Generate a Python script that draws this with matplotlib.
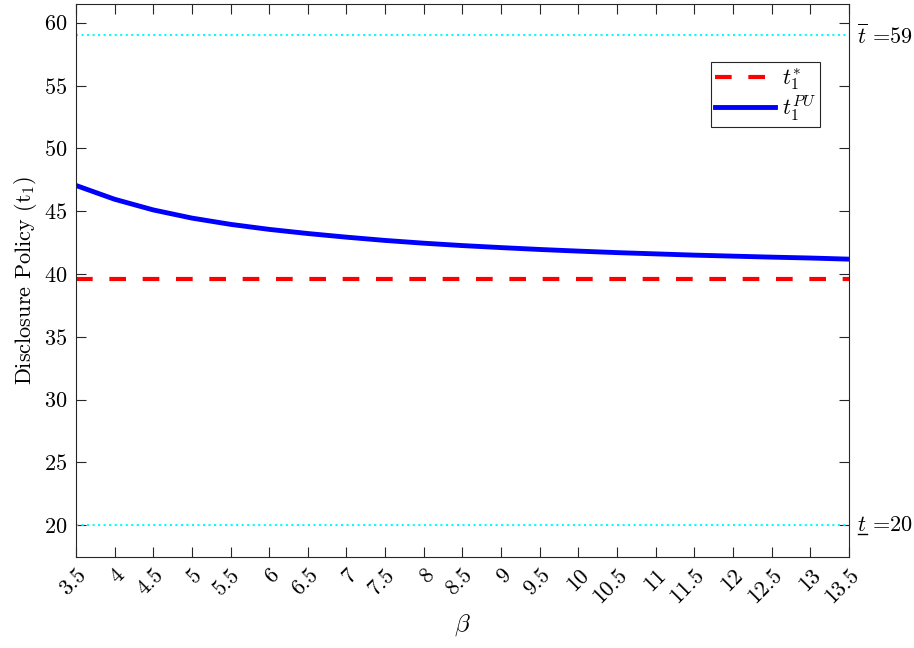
import matplotlib
matplotlib.use('Agg')
import matplotlib.pyplot as plt
import matplotlib.transforms as mtrans
from matplotlib.lines import Line2D
import numpy as np

plt.rcParams['font.family'] = 'serif'
plt.rcParams['font.serif'] = ['cmr10']
plt.rcParams['mathtext.fontset'] = 'cm'
plt.rcParams['axes.formatter.use_mathtext'] = True

# beta grid and disclosure policies
beta = [3.5, 4, 4.5, 5, 5.5, 6, 6.5, 7, 7.5, 8, 8.5, 9, 9.5, 10, 10.5,
        11, 11.5, 12, 12.5, 13, 13.5]
t_pu = [47.05, 45.95, 45.1, 44.45, 43.95, 43.55, 43.22, 42.93, 42.67, 42.45,
        42.26, 42.1, 41.95, 41.82, 41.7, 41.6, 41.5, 41.42, 41.34, 41.27, 41.18]
t_star = 39.6
t_low = 20
t_high = 59

fig = plt.figure(figsize=(9.14, 6.48), dpi=100)
ax = fig.add_axes([0.083, 0.141, 0.846, 0.853])

ax.axhline(t_high, color='cyan', ls=':', lw=1.5)
ax.axhline(t_low, color='cyan', ls=':', lw=1.5)
ax.plot(beta, [t_star] * len(beta), color='red', ls=(0, (4, 4)), lw=3, label=r'$t_1^{*}$')
ax.plot(beta, t_pu, color='blue', lw=3.5, label=r'$t_1^{PU}$')

ax.set_xlim(3.5, 13.5)
ax.set_ylim(17.5, 61.5)
ax.set_xticks(beta)
ax.set_xticklabels([('%g' % b) for b in beta], rotation=45, ha='right',
                   rotation_mode='anchor')
ax.set_yticks(np.arange(20, 61, 5))
ax.tick_params(direction='in', length=7, top=True, right=True, labelsize=16,
               color='#262626', pad=6)
for s in ax.spines.values():
    s.set_color('#262626')
    s.set_linewidth(0.8)

ax.set_xlabel(r'$\beta$', fontsize=18)
ax.set_ylabel(r'Disclosure Policy $(\mathrm{t}_1)$', fontsize=16)

tr = mtrans.blended_transform_factory(ax.transAxes, ax.transData)
ax.text(1.01, t_high, r'$\overline{t}$ =59', transform=tr, fontsize=16, va='center')
low_txt = ax.text(1.01, t_low, r'$t$ =20', transform=tr, fontsize=16, va='center')

leg = ax.legend(loc='upper right', bbox_to_anchor=(0.963, 0.895), fontsize=16,
                handlelength=2.7, fancybox=False, edgecolor='#262626',
                framealpha=1, borderpad=0.2, labelspacing=0.05, handletextpad=0.3,
                borderaxespad=0)
leg.get_frame().set_linewidth(0.8)

# mathtext has no \underline, so draw the bar under t by hand
fig.canvas.draw()
bb = low_txt.get_window_extent()
x0 = bb.x0 + 1
y0 = bb.y0 + 1
fig.add_artist(Line2D([x0, x0 + 9], [y0, y0], transform=None, color='black', lw=1))

fig.savefig('out.png', dpi=100)
